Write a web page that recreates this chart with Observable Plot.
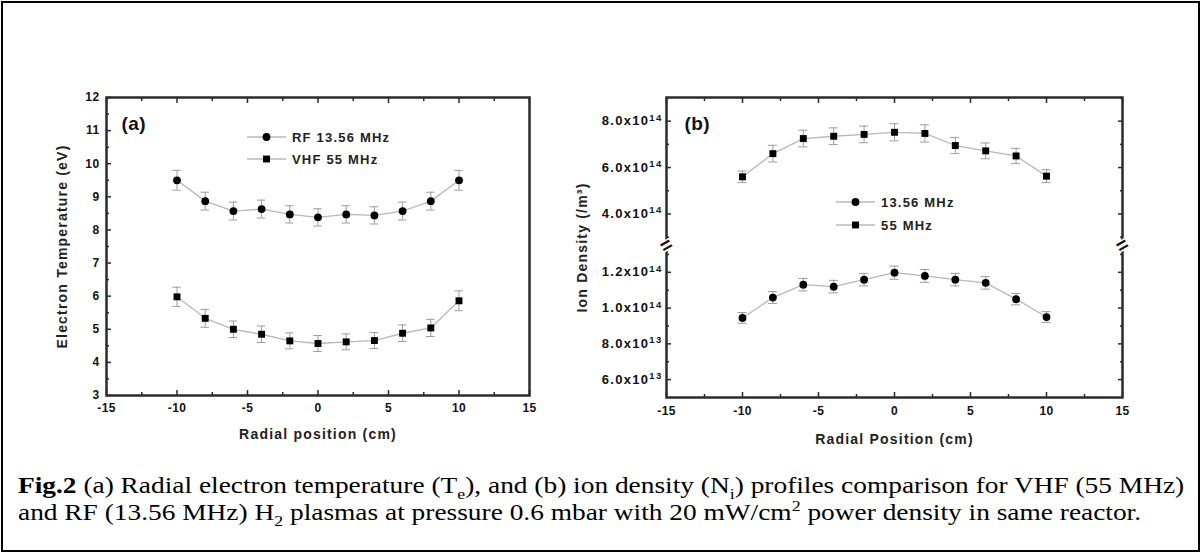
<!DOCTYPE html>
<html><head><meta charset="utf-8">
<script src="https://cdn.jsdelivr.net/npm/d3@7"></script>
<script src="https://cdn.jsdelivr.net/npm/@observablehq/plot@0.6"></script>
<style>
body{margin:0;background:#fff;}
#wrap{position:relative;width:1202px;height:554px;overflow:hidden;background:#fff;}
#border{position:absolute;left:1px;top:1px;width:1199px;height:551px;border:2px solid #000;box-sizing:border-box;}
.plot{position:absolute;top:0;}
#pa{left:0;} #pb{left:560px;}
#legend{position:absolute;left:0;top:0;}
#caption{position:absolute;left:18px;top:472px;font-family:"Liberation Serif","Times New Roman",serif;font-size:23px;line-height:27px;white-space:nowrap;color:#000;transform:scaleX(1.19);transform-origin:0 0;}
#caption sub,#caption sup{font-size:15px;line-height:0;}
</style></head>
<body><div id="wrap"><div id="border"></div><div id="pa" class="plot"></div><div id="pb" class="plot"></div><svg id="legend" width="1202" height="554"></svg>
<div id="caption"><b>Fig.2</b> (a) Radial electron temperature (T<sub>e</sub>), and (b) ion density (N<sub>i</sub>) profiles comparison for VHF (55 MHz)<br>and RF (13.56 MHz) H<sub>2</sub> plasmas at pressure 0.6 mbar with 20 mW/cm<sup>2</sup> power density in same reactor.</div>
</div>
<script>
// ---- data ----
const positions = [-10, -8, -6, -4, -2, 0, 2, 4, 6, 8, 10];
const teRF      = [9.50, 8.87, 8.57, 8.63, 8.47, 8.38, 8.47, 8.44, 8.57, 8.87, 9.50];
const teRFerr   = [0.30, 0.27, 0.27, 0.27, 0.26, 0.26, 0.26, 0.26, 0.27, 0.27, 0.30];
const teVHF     = [5.98, 5.33, 5.00, 4.85, 4.65, 4.57, 4.62, 4.66, 4.88, 5.04, 5.86];
const teVHFerr  = [0.29, 0.27, 0.25, 0.25, 0.24, 0.24, 0.24, 0.24, 0.25, 0.26, 0.30];
const niVHF     = [5.60e14, 6.60e14, 7.25e14, 7.35e14, 7.43e14, 7.52e14, 7.47e14, 6.95e14, 6.72e14, 6.50e14, 5.63e14];
const niVHFerr  = [0.25e14, 0.36e14, 0.36e14, 0.36e14, 0.36e14, 0.37e14, 0.37e14, 0.35e14, 0.34e14, 0.33e14, 0.28e14];
const niRF      = [0.945e14, 1.059e14, 1.131e14, 1.120e14, 1.159e14, 1.198e14, 1.180e14, 1.159e14, 1.141e14, 1.050e14, 0.950e14];
const niRFerr   = [3.0e12, 3.3e12, 3.5e12, 3.5e12, 3.5e12, 3.7e12, 3.6e12, 3.5e12, 3.5e12, 3.2e12, 3.0e12];

const legendA = ["RF 13.56 MHz", "VHF 55 MHz"];
const legendB = ["13.56 MHz", "55 MHz"];
const xMajor = [-15, -10, -5, 0, 5, 10, 15];
const xMinor = [-12.5, -7.5, -2.5, 2.5, 7.5, 12.5];
const yMajorA = [3, 4, 5, 6, 7, 8, 9, 10, 11, 12];
const yMinorA = [3.5, 4.5, 5.5, 6.5, 7.5, 8.5, 9.5, 10.5, 11.5];
const yMajorB = [6e13, 8e13, 1.0e14, 1.2e14, 4e14, 6e14, 8e14];
const yMinorB = [7e13, 9e13, 1.1e14, 1.3e14, 3e14, 5e14, 7e14, 9e14];
const yBreakLow = 1.35e14, yBreakHigh = 2.64e14;
const yDomainB = [5e13, yBreakLow, yBreakHigh, 9.02e14];

// ---- style ----
const font = '"Liberation Sans", Arial, sans-serif';
const lineColor = "#b8b8b8", errColor = "#9c9c9c", frameColor = "#2b2b2b";
const capHalf = 0.3;

function rows(ys, es) { return positions.map((x, i) => ({x, y: ys[i], e: es[i]})); }
function series(data, symbol) {
  return [
    Plot.line(data, {x: "x", y: "y", stroke: lineColor, strokeWidth: 1.3}),
    Plot.ruleX(data, {x: "x", y1: d => d.y - d.e, y2: d => d.y + d.e, stroke: errColor, strokeWidth: 1}),
    Plot.ruleY(data, {y: d => d.y - d.e, x1: d => d.x - capHalf, x2: d => d.x + capHalf, stroke: errColor, strokeWidth: 1}),
    Plot.ruleY(data, {y: d => d.y + d.e, x1: d => d.x - capHalf, x2: d => d.x + capHalf, stroke: errColor, strokeWidth: 1}),
    Plot.dot(data, {x: "x", y: "y", symbol, r: 3.9, fill: "#000", stroke: "none"})
  ];
}
function sci(v) {
  const e = Math.floor(Math.log10(v) + 1e-9);
  const m = v / Math.pow(10, e);
  return m.toFixed(1) + "x10^" + e;
}
const plain = d => String(d);   // hyphen-minus, as in the reference
const blank = () => "";

function xAxes(tickPadding) {
  return [
    Plot.axisX(xMajor, {anchor: "bottom", tickSize: -5, tickPadding, tickFormat: plain, fontSize: 12, fontWeight: "bold", stroke: frameColor, strokeWidth: 1.5, label: null}),
    Plot.axisX(xMinor, {anchor: "bottom", tickSize: -3, tickFormat: blank, stroke: frameColor, strokeWidth: 1.5, label: null}),
    Plot.axisX(xMajor, {anchor: "top", tickSize: -5, tickFormat: blank, stroke: frameColor, strokeWidth: 1.5, label: null}),
    Plot.axisX(xMinor, {anchor: "top", tickSize: -3, tickFormat: blank, stroke: frameColor, strokeWidth: 1.5, label: null})
  ];
}

// ---- panel (a) ----
const pa = Plot.plot({
  width: 560, height: 470,
  marginLeft: 106, marginRight: 31, marginTop: 97, marginBottom: 75,
  x: {domain: [-15, 15]},
  y: {domain: [3, 12]},
  style: {fontFamily: font, fontWeight: "bold", fontSize: "12px", color: "#111", background: "transparent", letterSpacing: "0.4px"},
  marks: [
    ...series(rows(teRF, teRFerr), "circle"),
    ...series(rows(teVHF, teVHFerr), "square"),
    ...xAxes(13),
    Plot.axisY(yMajorA, {anchor: "left", tickSize: -5, tickPadding: 12, tickFormat: plain, fontSize: 12, fontWeight: "bold", stroke: frameColor, strokeWidth: 1.5, label: null}),
    Plot.axisY(yMinorA, {anchor: "left", tickSize: -3, tickFormat: blank, stroke: frameColor, strokeWidth: 1.5, label: null}),
    Plot.frame({stroke: frameColor, strokeWidth: 2.5}),
    Plot.text(["(a)"], {frameAnchor: "top-left", dx: 15, dy: 26, textAnchor: "start", lineAnchor: "middle", fontSize: 19, fontWeight: "bold", fill: "#111"}),
    Plot.text(["Radial position (cm)"], {frameAnchor: "bottom", dy: 39, textAnchor: "middle", lineAnchor: "middle", fontSize: 14, fontWeight: "bold", fill: "#222", className: "title"}),
    Plot.text(["Electron Temperature (eV)"], {frameAnchor: "left", dx: -44, rotate: -90, textAnchor: "middle", lineAnchor: "middle", fontSize: 14, fontWeight: "bold", fill: "#222", className: "title"})
  ]
});
document.getElementById("pa").appendChild(pa);

// ---- panel (b) ----
const pb = Plot.plot({
  width: 600, height: 470,
  marginLeft: 106, marginRight: 38, marginTop: 97, marginBottom: 73,
  x: {domain: [-15, 15]},
  y: {type: "linear", domain: yDomainB, range: [397, 245, 245, 97]},
  style: {fontFamily: font, fontWeight: "bold", fontSize: "12px", color: "#111", background: "transparent", letterSpacing: "0.4px"},
  marks: [
    ...series(rows(niVHF, niVHFerr), "square"),
    ...series(rows(niRF, niRFerr), "circle"),
    ...xAxes(14),
    Plot.axisY(yMajorB, {anchor: "left", tickSize: -5, tickPadding: 9, tickFormat: sci, fontSize: 13, fontWeight: "bold", stroke: frameColor, strokeWidth: 1.5, label: null}),
    Plot.axisY(yMinorB, {anchor: "left", tickSize: -3, tickFormat: blank, stroke: frameColor, strokeWidth: 1.5, label: null}),
    Plot.axisY(yMajorB, {anchor: "right", tickSize: -5, tickFormat: blank, stroke: frameColor, strokeWidth: 1.5, label: null}),
    Plot.axisY(yMinorB, {anchor: "right", tickSize: -3, tickFormat: blank, stroke: frameColor, strokeWidth: 1.5, label: null}),
    Plot.frame({stroke: frameColor, strokeWidth: 2.5}),
    Plot.text([-15, 15], {x: d => d, y: () => yBreakLow, text: () => "=", rotate: -30, fontSize: 20, fontWeight: "bold", fill: "#111", stroke: "white", strokeWidth: 3, lineAnchor: "middle"}),
    Plot.text(["(b)"], {frameAnchor: "top-left", dx: 18, dy: 26, textAnchor: "start", lineAnchor: "middle", fontSize: 19, fontWeight: "bold", fill: "#111"}),
    Plot.text(["Radial Position (cm)"], {frameAnchor: "bottom", dy: 42, textAnchor: "middle", lineAnchor: "middle", fontSize: 14, fontWeight: "bold", fill: "#222", className: "title"}),
    Plot.text(["Ion Density (/m³)"], {frameAnchor: "left", dx: -84, rotate: -90, textAnchor: "middle", lineAnchor: "middle", fontSize: 14, fontWeight: "bold", fill: "#222", className: "title"})
  ]
});
document.getElementById("pb").appendChild(pb);

// titles a little wider, like the reference's stretched lettering
d3.selectAll(".title text").attr("letter-spacing", "1.2px");
// superscript exponents for the scientific tick labels
d3.select(pb).selectAll("text").each(function() {
  const t = this.textContent;
  if (t.includes("^")) {
    const [base, exp] = t.split("^");
    const sel = d3.select(this);
    sel.text(null).attr("letter-spacing", "1.3px");
    sel.append("tspan").text(base);
    sel.append("tspan").attr("font-size", 9.5).attr("dy", "-0.5em").text(exp);
  }
});

// ---- in-plot legends ----
const lg = d3.select("#legend");
function legend(names, symbols, x0, y0, dy) {
  names.forEach((name, i) => {
    const y = y0 + i * dy;
    lg.append("line").attr("x1", x0).attr("x2", x0 + 39).attr("y1", y).attr("y2", y).attr("stroke", lineColor).attr("stroke-width", 1.3);
    lg.append("path").attr("transform", `translate(${x0 + 19.5},${y})`)
      .attr("d", d3.symbol(symbols[i] === "circle" ? d3.symbolCircle : d3.symbolSquare, Math.PI * 3.9 * 3.9)()).attr("fill", "#000");
    lg.append("text").attr("x", x0 + 45).attr("y", y).attr("dy", "0.35em")
      .attr("font-family", font).attr("font-weight", "bold").attr("font-size", 13).attr("letter-spacing", "1.2px").attr("fill", "#222").text(name);
  });
}
legend(legendA, ["circle", "square"], 247, 137, 22);
legend(legendB, ["circle", "square"], 836, 202, 23);
</script>
</body></html>
